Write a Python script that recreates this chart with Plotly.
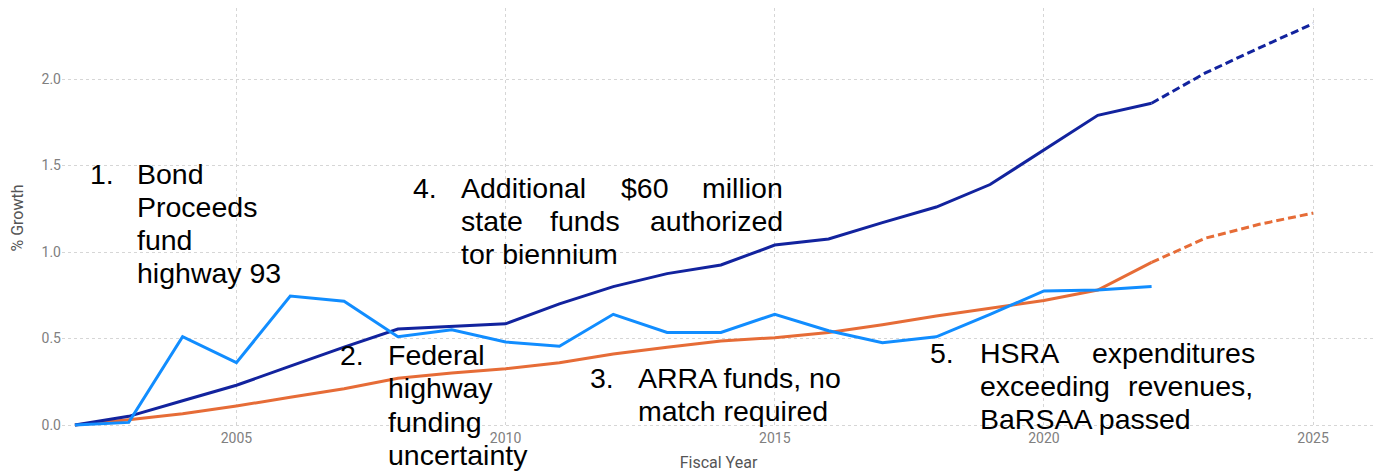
import plotly.graph_objects as go

years = list(range(2002, 2023))
proj_years = [2022, 2023, 2024, 2025]

total_growth = [0.0, 0.05, 0.14, 0.23, 0.34, 0.45, 0.555, 0.57, 0.585, 0.70, 0.80,
                0.875, 0.925, 1.04, 1.075, 1.17, 1.26, 1.39, 1.59, 1.79, 1.86]
total_proj = [1.86, 2.035, 2.18, 2.32]

inflation_growth = [0.0, 0.03, 0.065, 0.11, 0.16, 0.21, 0.27, 0.30, 0.325, 0.36, 0.41,
                    0.45, 0.485, 0.505, 0.535, 0.58, 0.63, 0.675, 0.72, 0.78, 0.94]
inflation_proj = [0.94, 1.08, 1.16, 1.225]

state_growth = [0.0, 0.015, 0.51, 0.36, 0.745, 0.715, 0.51, 0.55, 0.48, 0.455, 0.64,
                0.535, 0.535, 0.64, 0.545, 0.475, 0.51, 0.64, 0.775, 0.78, 0.80]

x_ticks = [2005, 2010, 2015, 2020, 2025]
y_ticks = [0.0, 0.5, 1.0, 1.5, 2.0]

DARK = "#12239E"
ORANGE = "#E66C37"
LIGHT = "#118DFF"

W, H = 1385, 472
ML, MR, MT, MB = 62, 10, 8, 44
PW, PH = W - ML - MR, H - MT - MB

fig = go.Figure()
fig.add_trace(go.Scatter(x=years, y=inflation_growth, mode="lines",
                         line=dict(color=ORANGE, width=3)))
fig.add_trace(go.Scatter(x=proj_years, y=inflation_proj, mode="lines",
                         line=dict(color=ORANGE, width=3, dash="8px,4px")))
fig.add_trace(go.Scatter(x=years, y=total_growth, mode="lines",
                         line=dict(color=DARK, width=3)))
fig.add_trace(go.Scatter(x=proj_years, y=total_proj, mode="lines",
                         line=dict(color=DARK, width=3, dash="8px,4px")))
fig.add_trace(go.Scatter(x=years, y=state_growth, mode="lines",
                         line=dict(color=LIGHT, width=3)))

ann_font = dict(family="Liberation Sans, Arial", size=28.5, color="black")


def add_text(px, py, text, anchor="left"):
    fig.add_annotation(x=(px - ML) / PW, y=(H - MB - py) / PH, xref="paper", yref="paper",
                       text=text, showarrow=False, xanchor=anchor, yanchor="middle",
                       font=ann_font, borderpad=0)


# numbered notes: (number, number x, first line y, lines); each line is a list of (word, anchor, x)
STEP = 33.3
notes = [
    ("1.", 89, 173.5, [[("Bond", "left", 136)], [("Proceeds", "left", 136)],
                        [("fund", "left", 136)], [("highway 93", "left", 136)]]),
    ("4.", 412, 187.5, [[("Additional", "left", 460), ("$60", "center", 645), ("million", "right", 784)],
                         [("state", "left", 460), ("funds", "center", 585), ("authorized", "right", 784)],
                         [("tor biennium", "left", 460)]]),
    ("2.", 339, 355, [[("Federal", "left", 387)], [("highway", "left", 387)],
                       [("funding", "left", 387)], [("uncertainty", "left", 387)]]),
    ("3.", 589, 377.5, [[("ARRA funds, no", "left", 637)], [("match required", "left", 637)]]),
    ("5.", 929, 352.5, [[("HSRA", "left", 979), ("expenditures", "right", 1256)],
                         [("exceeding", "left", 979), ("revenues,", "right", 1254)],
                         [("BaRSAA passed", "left", 979)]]),
]
for num, nx, y0, lines in notes:
    add_text(nx, y0, num)
    for i, words in enumerate(lines):
        for word, anchor, wx in words:
            add_text(wx, y0 + i * STEP, word, anchor)

grid = dict(showgrid=True, gridcolor="#d6d6d6", griddash="dot", gridwidth=1)
tickfont = dict(family="Roboto, Open Sans", size=14, color="#808080")
titlefont = dict(family="Roboto, Open Sans", size=16, color="#555555")
fig.update_layout(
    width=W, height=H,
    margin=dict(l=ML, r=MR, t=MT, b=MB),
    paper_bgcolor="white", plot_bgcolor="white",
    showlegend=False,
    xaxis=dict(range=[2001.76, 2026.15], tickvals=x_ticks, ticks="", tickfont=tickfont,
               title=dict(text="Fiscal Year", font=titlefont, standoff=11),
               zeroline=False, showline=False, automargin=False, **grid),
    yaxis=dict(range=[-3 / 173, (H - MB - MT - 3) / 173], tickvals=y_ticks, tickformat=".1f",
               ticks="", tickfont=tickfont,
               title=dict(text="% Growth", font=titlefont, standoff=13),
               zeroline=False, showline=False, automargin=False, **grid),
)

fig.write_html("out.html", config={"displayModeBar": False},
               post_script="document.body.style.margin='0';")
